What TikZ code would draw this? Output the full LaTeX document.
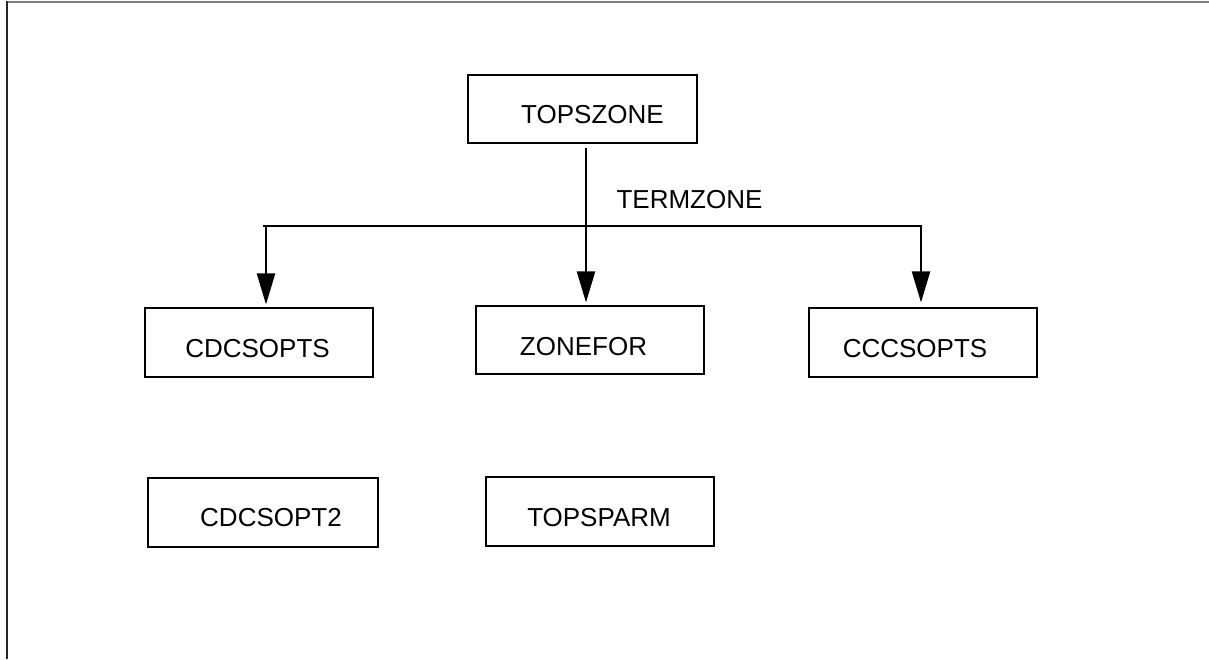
\documentclass[tikz,border=0pt]{standalone}
\usepackage{fontspec}
\setmainfont{Liberation Sans}
\usetikzlibrary{arrows.meta}
\begin{document}
\begin{tikzpicture}[x=1pt,y=-1pt,
  box/.style={draw, line width=1.1pt, minimum width=228pt, minimum height=68pt, inner sep=0pt},
  lbl/.style={anchor=base, inner sep=0pt, font=\fontsize{26}{30}\selectfont},
  arr/.style={line width=2.3pt, -{Triangle[length=31pt,width=18pt]}},
  bus/.style={line width=1.1pt}]
\useasboundingbox (0,0) rectangle (1209,659);
% frame
\draw[line width=2pt, gray] (6,2) -- (1209,2);
\draw[line width=2pt, black!85] (7,1) -- (7,659);
% boxes
\node[box, minimum width=229pt] (topszone) at (582.5,109) {};
\node[box, minimum height=69pt] (cdcsopts) at (259,342.5) {};
\node[box] (zonefor) at (590,340) {};
\node[box, minimum height=69pt] (cccsopts) at (923,342.5) {};
\node[box, minimum width=230pt, minimum height=69pt] (cdcsopt2) at (263,512.5) {};
\node[box, minimum height=69pt] (topsparm) at (600,511.5) {};
% labels
\node[lbl] (t1) at (592.5,123) {TOPSZONE};
\node[lbl] (t2) at (689.5,208) {TERMZONE};
\node[lbl] (t3) at (257.5,357) {CDCSOPTS};
\node[lbl] (t4) at (583.5,355) {ZONEFOR};
\node[lbl] (t5) at (915,357) {CCCSOPTS};
\node[lbl] (t6) at (271,526) {CDCSOPT2};
\node[lbl] (t7) at (599,526) {TOPSPARM};
% connectors
\coordinate (busL) at (263,226);
\coordinate (busR) at (922,226);
\coordinate (dropL) at (266,226);
\coordinate (dropR) at (921,226);
\coordinate (midtop) at (586,148);
\draw[bus] (busL) -- (busR);
\draw[arr, shorten >=3pt] (midtop) -- (midtop |- zonefor.north);
\draw[arr, shorten >=3pt] (dropL) -- (dropL |- cdcsopts.north);
\draw[arr, shorten >=5pt] (dropR) -- (dropR |- cccsopts.north);
\end{tikzpicture}
\end{document}
